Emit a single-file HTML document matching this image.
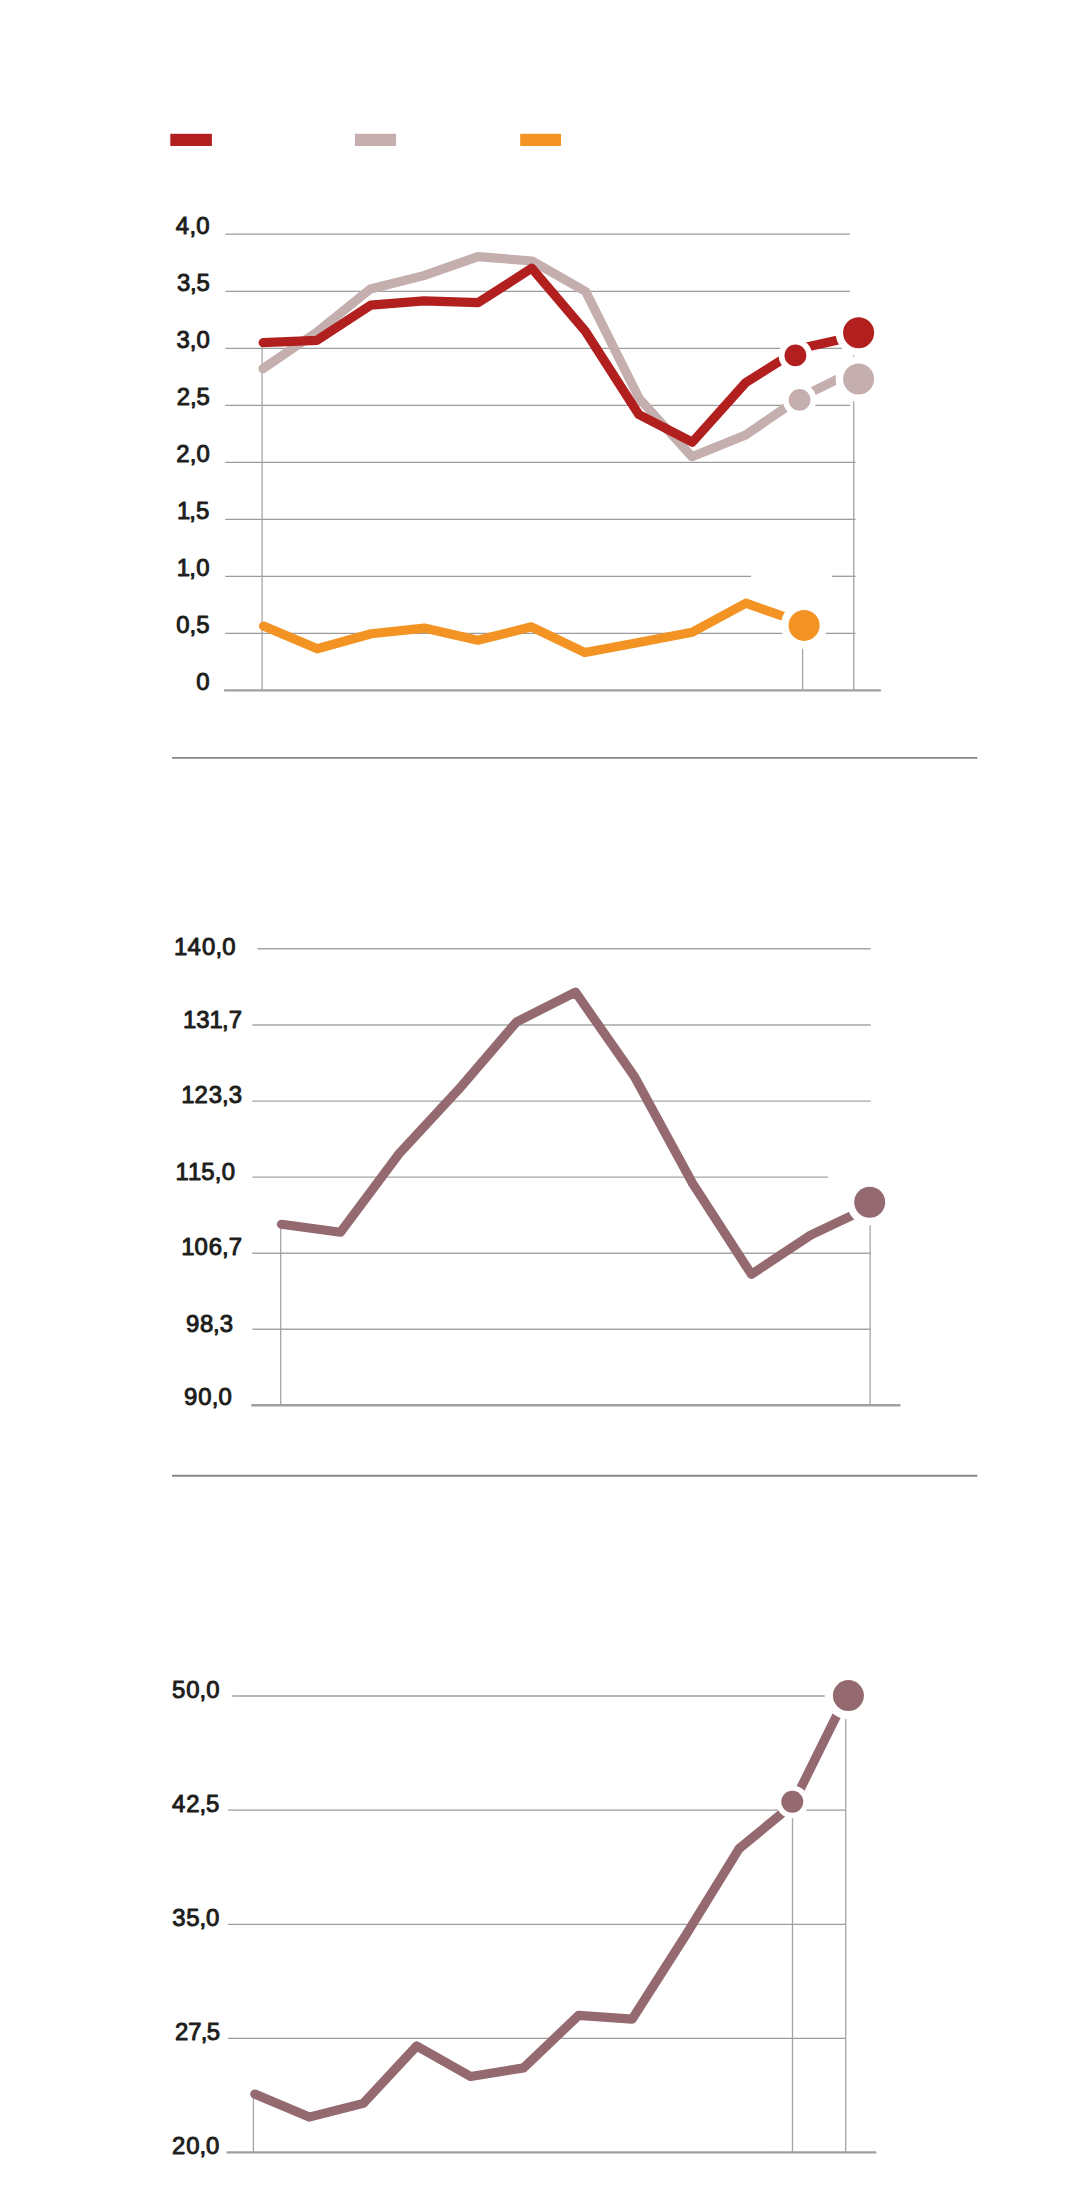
<!DOCTYPE html>
<html><head><meta charset="utf-8"><title>Charts</title>
<style>
html,body{margin:0;padding:0;background:#fff;}
body{width:1092px;height:2206px;overflow:hidden;}
svg{display:block;}
text{font-family:"Liberation Sans",sans-serif;font-size:23.2px;font-weight:normal;fill:#1d1d1b;stroke:#1d1d1b;stroke-width:0.95px;stroke-linejoin:round;}
</style></head><body>
<svg width="1092" height="2206" viewBox="0 0 1092 2206">
<rect x="170.3" y="133.8" width="41.6" height="12.2" fill="#b21f1f"/>
<rect x="354.9" y="133.8" width="41.2" height="12.2" fill="#c4aeae"/>
<rect x="520.2" y="133.8" width="40.8" height="12.2" fill="#f39323"/>
<line x1="225.3" y1="234.1" x2="850" y2="234.1" stroke="#9c9c9c" stroke-width="1.3" stroke-linecap="butt"/>
<line x1="225.3" y1="291.3" x2="850" y2="291.3" stroke="#9c9c9c" stroke-width="1.3" stroke-linecap="butt"/>
<line x1="225.3" y1="348.3" x2="850" y2="348.3" stroke="#9c9c9c" stroke-width="1.3" stroke-linecap="butt"/>
<line x1="225.3" y1="405.3" x2="850" y2="405.3" stroke="#9c9c9c" stroke-width="1.3" stroke-linecap="butt"/>
<line x1="225.3" y1="462.3" x2="855.6" y2="462.3" stroke="#9c9c9c" stroke-width="1.3" stroke-linecap="butt"/>
<line x1="225.3" y1="519.3" x2="855.6" y2="519.3" stroke="#9c9c9c" stroke-width="1.3" stroke-linecap="butt"/>
<line x1="225.3" y1="576.3" x2="751" y2="576.3" stroke="#9c9c9c" stroke-width="1.3" stroke-linecap="butt"/>
<line x1="832" y1="576.3" x2="855.6" y2="576.3" stroke="#9c9c9c" stroke-width="1.3" stroke-linecap="butt"/>
<line x1="225.3" y1="633.4" x2="855.6" y2="633.4" stroke="#9c9c9c" stroke-width="1.3" stroke-linecap="butt"/>
<line x1="262.1" y1="345" x2="262.1" y2="690" stroke="#a4a4a4" stroke-width="1.3"/>
<line x1="853.7" y1="335" x2="853.7" y2="690" stroke="#a4a4a4" stroke-width="1.3"/>
<line x1="802.6" y1="628" x2="802.6" y2="690" stroke="#a4a4a4" stroke-width="1.3"/>
<line x1="225" y1="690.4" x2="880" y2="690.4" stroke="#a0a0a0" stroke-width="2.4" stroke-linecap="round"/>
<polyline points="263,368.6 316.6,332.3 370.3,289 423.8,275.6 478,256.6 532.2,261 585.6,291.4 639.2,398.5 691.9,456.7 745.7,435 800,397.6 853.9,371.2" fill="none" stroke="#c4aeae" stroke-width="9.2" stroke-linecap="round" stroke-linejoin="round"/>
<circle cx="799.6" cy="399.9" r="16.8" fill="#fff"/>
<circle cx="799.6" cy="399.9" r="10.9" fill="#c4aeae"/>
<circle cx="858.6" cy="379" r="23" fill="#fff"/>
<circle cx="858.6" cy="379" r="15.5" fill="#c4aeae"/>
<polyline points="263.2,342.7 316.8,340.4 370.8,305.1 424,300.9 478.1,302.7 531.8,268.2 585.4,331.3 638.8,414.5 692.3,442.2 745.7,382.6 800,348.4 853.9,336.6" fill="none" stroke="#b21f1f" stroke-width="9.2" stroke-linecap="round" stroke-linejoin="round"/>
<circle cx="795.4" cy="355.4" r="16.8" fill="#fff"/>
<circle cx="795.4" cy="355.4" r="10.9" fill="#b21f1f"/>
<circle cx="858.6" cy="332.8" r="23" fill="#fff"/>
<circle cx="858.6" cy="332.8" r="15.5" fill="#b21f1f"/>
<polyline points="263.6,626.1 317.3,648.8 371.2,633.8 424.3,628.1 477.8,640.2 531.4,626.8 585,652.6 638.6,642.4 692.1,632.2 745.8,603.2 800,622.2" fill="none" stroke="#f39323" stroke-width="9.2" stroke-linecap="round" stroke-linejoin="round"/>
<circle cx="804.1" cy="625.4" r="23.3" fill="#fff"/>
<circle cx="804.1" cy="625.4" r="15.5" fill="#f39323"/>
<text transform="scale(1.03 1)" text-anchor="middle" x="177.14 187.09 197.04" y="233.9">4,0</text>
<text transform="scale(1.03 1)" text-anchor="middle" x="178.22 187.77 197.32" y="291.2">3,5</text>
<text transform="scale(1.03 1)" text-anchor="middle" x="177.76 187.48 197.20" y="348.4">3,0</text>
<text transform="scale(1.03 1)" text-anchor="middle" x="178.18 187.67 197.16" y="405.4">2,5</text>
<text transform="scale(1.03 1)" text-anchor="middle" x="177.68 187.43 197.18" y="462.4">2,0</text>
<text transform="scale(1.03 1)" text-anchor="middle" x="178.31 187.05 196.79" y="519.4">1,5</text>
<text transform="scale(1.03 1)" text-anchor="middle" x="178.07 187.02 197.01" y="576.3">1,0</text>
<text transform="scale(1.03 1)" text-anchor="middle" x="177.48 187.23 196.98" y="633.4">0,5</text>
<text transform="scale(1.03 1)" text-anchor="middle" x="197.04" y="690.2">0</text>
<line x1="172" y1="757.9" x2="977.3" y2="757.9" stroke="#878787" stroke-width="1.9" stroke-linecap="butt"/>
<line x1="257.4" y1="948.8" x2="870.7" y2="948.8" stroke="#a6a6a6" stroke-width="1.4" stroke-linecap="butt"/>
<line x1="252.3" y1="1025.0" x2="870.7" y2="1025.0" stroke="#a6a6a6" stroke-width="1.4" stroke-linecap="butt"/>
<line x1="252.3" y1="1101.1" x2="870.7" y2="1101.1" stroke="#a6a6a6" stroke-width="1.4" stroke-linecap="butt"/>
<line x1="252.3" y1="1177.1" x2="828" y2="1177.1" stroke="#a6a6a6" stroke-width="1.4" stroke-linecap="butt"/>
<line x1="252.3" y1="1253.2" x2="870.7" y2="1253.2" stroke="#a6a6a6" stroke-width="1.4" stroke-linecap="butt"/>
<line x1="252.3" y1="1329.3" x2="870.7" y2="1329.3" stroke="#a6a6a6" stroke-width="1.4" stroke-linecap="butt"/>
<line x1="280.7" y1="1226" x2="280.7" y2="1405" stroke="#a4a4a4" stroke-width="1.3"/>
<line x1="870.1" y1="1205" x2="870.1" y2="1405" stroke="#a4a4a4" stroke-width="1.3"/>
<line x1="252.3" y1="1405.3" x2="899.4" y2="1405.3" stroke="#a0a0a0" stroke-width="2.4" stroke-linecap="round"/>
<polyline points="281.4,1224.3 340.5,1232.2 399.6,1153.1 458.4,1089.7 516.7,1021.8 575.5,992.2 634.8,1077.2 692.5,1183.2 751.4,1274.3 810.6,1235.2 870.1,1206.9" fill="none" stroke="#946a70" stroke-width="9.2" stroke-linecap="round" stroke-linejoin="round"/>
<circle cx="869.7" cy="1202.3" r="23" fill="#fff"/>
<circle cx="869.7" cy="1202.3" r="15.5" fill="#946a70"/>
<text transform="scale(1.03 1)" text-anchor="middle" x="175.50 188.49 202.51 212.41 222.31" y="955.2">140,0</text>
<text transform="scale(1.03 1)" text-anchor="middle" x="184.01 196.94 209.87 218.70 228.56" y="1027.7">131,7</text>
<text transform="scale(1.03 1)" text-anchor="middle" x="182.41 195.23 209.07 218.84 228.61" y="1103.5">123,3</text>
<text transform="scale(1.03 1)" text-anchor="middle" x="176.94 188.89 201.86 211.75 221.64" y="1179.6">115,0</text>
<text transform="scale(1.03 1)" text-anchor="middle" x="182.41 195.23 209.07 218.84 228.61" y="1255.4">106,7</text>
<text transform="scale(1.03 1)" text-anchor="middle" x="186.98 200.55 210.13 219.72" y="1331.9">98,3</text>
<text transform="scale(1.03 1)" text-anchor="middle" x="185.03 198.97 208.81 218.66" y="1405.1">90,0</text>
<line x1="172" y1="1475.8" x2="977.3" y2="1475.8" stroke="#878787" stroke-width="1.9" stroke-linecap="butt"/>
<line x1="232.3" y1="1696" x2="845.7" y2="1696" stroke="#9c9c9c" stroke-width="1.3" stroke-linecap="butt"/>
<line x1="228.1" y1="1810.1" x2="845.7" y2="1810.1" stroke="#9c9c9c" stroke-width="1.3" stroke-linecap="butt"/>
<line x1="228.1" y1="1924.4" x2="845.7" y2="1924.4" stroke="#9c9c9c" stroke-width="1.3" stroke-linecap="butt"/>
<line x1="228.1" y1="2038.4" x2="845.7" y2="2038.4" stroke="#9c9c9c" stroke-width="1.3" stroke-linecap="butt"/>
<line x1="253.4" y1="2096" x2="253.4" y2="2152" stroke="#a4a4a4" stroke-width="1.3"/>
<line x1="792.5" y1="1805" x2="792.5" y2="2152" stroke="#a4a4a4" stroke-width="1.3"/>
<line x1="845.7" y1="1700" x2="845.7" y2="2152" stroke="#a4a4a4" stroke-width="1.3"/>
<line x1="227.6" y1="2152.4" x2="875.3" y2="2152.4" stroke="#a0a0a0" stroke-width="2.4" stroke-linecap="round"/>
<polyline points="254.8,2094.1 309.2,2117.1 363.3,2103.4 416.7,2046 470.6,2076.5 523.6,2067.9 578.6,2015.4 632.1,2019.2 686.2,1934.5 739.1,1848.6 792.5,1804.8 845.7,1697.3" fill="none" stroke="#946a70" stroke-width="9.2" stroke-linecap="round" stroke-linejoin="round"/>
<circle cx="792.3" cy="1801.8" r="16.4" fill="#fff"/>
<circle cx="792.3" cy="1801.8" r="11" fill="#946a70"/>
<circle cx="848.4" cy="1695.6" r="23.8" fill="#fff"/>
<circle cx="848.4" cy="1695.6" r="15.5" fill="#946a70"/>
<text transform="scale(1.03 1)" text-anchor="middle" x="173.47 187.21 196.92 206.62" y="1698.5">50,0</text>
<text transform="scale(1.03 1)" text-anchor="middle" x="173.46 187.17 196.86 206.54" y="1812.5">42,5</text>
<text transform="scale(1.03 1)" text-anchor="middle" x="173.62 187.28 196.93 206.57" y="1926.5">35,0</text>
<text transform="scale(1.03 1)" text-anchor="middle" x="176.37 189.12 198.12 207.12" y="2040.2">27,5</text>
<text transform="scale(1.03 1)" text-anchor="middle" x="173.46 187.17 196.86 206.54" y="2154.5">20,0</text>
</svg>
</body></html>
